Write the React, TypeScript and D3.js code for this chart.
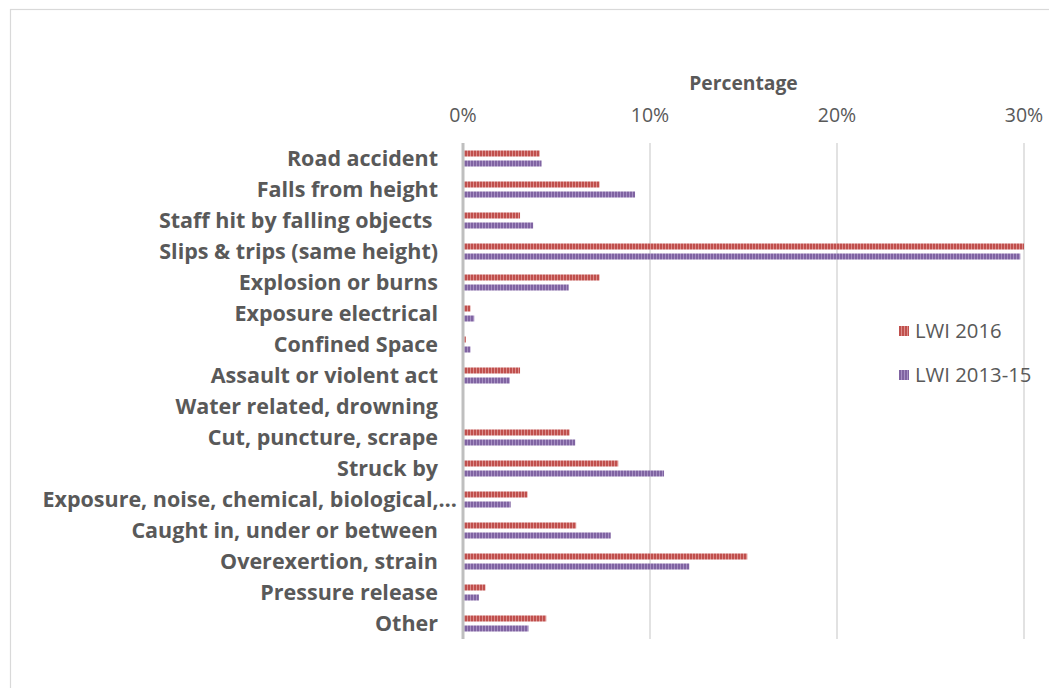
import React, { useEffect } from "react";
import * as d3 from "d3";

const categories = [
  "Road accident",
  "Falls from height",
  "Staff hit by falling objects ",
  "Slips & trips (same height)",
  "Explosion or burns",
  "Exposure electrical",
  "Confined Space",
  "Assault or violent act",
  "Water related, drowning",
  "Cut, puncture, scrape",
  "Struck by",
  "Exposure, noise, chemical, biological,…",
  "Caught in, under or between",
  "Overexertion, strain",
  "Pressure release",
  "Other",
];

const lwi2016 = [4.1, 7.3, 3.05, 30.0, 7.3, 0.4, 0.15, 3.05, 0, 5.7, 8.3, 3.45, 6.05, 15.2, 1.2, 4.45];
const lwi201315 = [4.2, 9.2, 3.75, 29.8, 5.65, 0.6, 0.4, 2.5, 0, 6.0, 10.75, 2.55, 7.9, 12.1, 0.85, 3.5];

const seriesNames = ["LWI 2016", "LWI 2013-15"];
const seriesValues = [lwi2016, lwi201315];
const seriesColors = ["#c0504d", "#8064a2"];
const stripeColors = ["#dc8d8b", "#a791c4"];

const xTicks = [0, 10, 20, 30];

const W = 1049;
const H = 688;
const FONT = "'Open Sans', Lato, sans-serif";
const TEXT = "#595959";

export default function App() {
  useEffect(() => {
    document.body.style.margin = "0";
  }, []);

  const x = d3.scaleLinear().domain([0, 30]).range([463, 1024]);
  const y = d3.scaleBand<string>().domain(categories).range([143, 639]).paddingInner(15 / 31).paddingOuter(15 / 62);
  const ys = d3.scaleBand<string>().domain(seriesNames).range([0, y.bandwidth()]).paddingInner(0.4);

  return (
    <svg width={W} height={H} style={{ display: "block" }} fontFamily={FONT}>
      <defs>
        {seriesNames.map((s, i) => (
          <pattern key={s} id={`pat${i}`} patternUnits="userSpaceOnUse" width={3} height={10}>
            <rect width={3} height={10} fill={seriesColors[i]} />
            <rect x={2} width={1} height={10} fill={stripeColors[i]} />
          </pattern>
        ))}
      </defs>
      <rect x={0} y={0} width={W} height={H} fill="#ffffff" />
      <rect x={10.5} y={9.5} width={W + 20} height={H + 20} fill="none" stroke="#d9d9d9" strokeWidth={1.2} />

      {/* title */}
      <text x={(x(0) + x(30)) / 2} y={90} textAnchor="middle" fontWeight="bold" fontSize={19.3} fill={TEXT}>
        Percentage
      </text>

      {/* gridlines & tick labels */}
      {xTicks.map((t) => (
        <g key={t}>
          {t !== 0 && (
            <line x1={x(t)} x2={x(t)} y1={143} y2={639} stroke="#d9d9d9" strokeWidth={1.5} />
          )}
          <text x={x(t)} y={122} textAnchor="middle" fontSize={19.5} fill={TEXT}>
            {`${t}%`}
          </text>
        </g>
      ))}

      {/* bars */}
      {seriesValues.map((vals, si) =>
        vals.map((v, ci) => (
          <rect
            key={`${si}-${ci}`}
            x={x(0)}
            y={(y(categories[ci]) as number) + (ys(seriesNames[si]) as number)}
            width={Math.max(0, x(v) - x(0))}
            height={ys.bandwidth()}
            fill={`url(#pat${si})`}
          />
        ))
      )}

      {/* axis line */}
      <line x1={x(0)} x2={x(0)} y1={143} y2={639} stroke="#bfbfbf" strokeWidth={3} />

      {/* category labels */}
      {categories.map((c) => (
        <text
          key={c}
          x={c.endsWith("…") ? 457 : 438}
          y={(y(c) as number) + y.bandwidth() / 2}
          dy="0.36em"
          textAnchor="end"
          fontWeight="bold"
          fontSize={21.5}
          fill={TEXT}
          style={{ whiteSpace: "pre" }}
        >
          {c}
        </text>
      ))}

      {/* legend */}
      {seriesNames.map((s, i) => (
        <g key={s} transform={`translate(899, ${331 + i * 44})`}>
          <rect x={0} y={-5} width={10} height={10} fill={`url(#pat${i})`} />
          <text x={16} y={0} dy="0.36em" fontSize={20.3} fill={TEXT}>
            {s}
          </text>
        </g>
      ))}
    </svg>
  );
}
